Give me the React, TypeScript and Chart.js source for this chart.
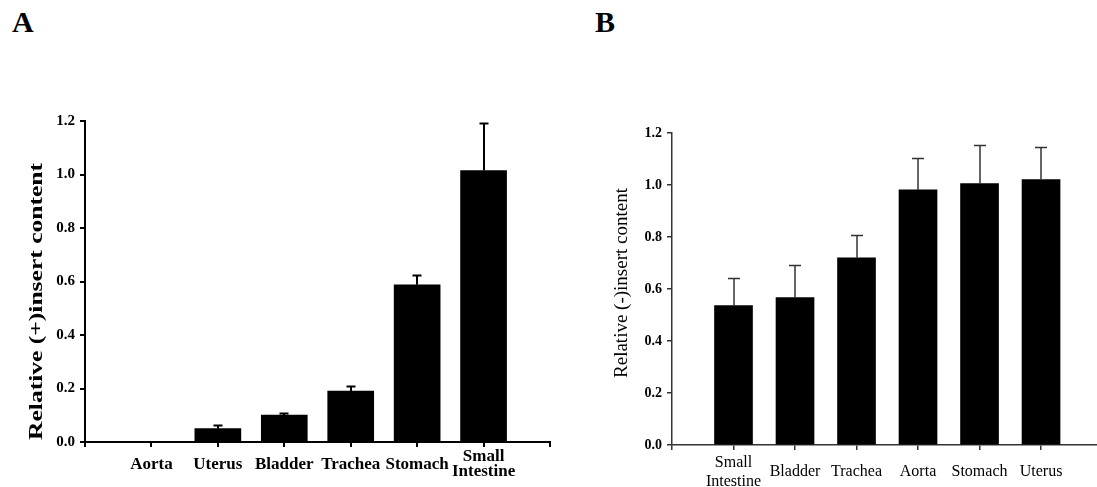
import React, { useEffect, useRef } from "react";
import { Chart, registerables } from "chart.js";

Chart.register(...registerables);

// Panel A: relative (+)insert content per tissue
const tissuesA = ["Aorta", "Uterus", "Bladder", "Trachea", "Stomach", "Small Intestine"];
const meansA = [0, 0.05, 0.101, 0.19, 0.588, 1.015];
const errorsA = [0, 0.014, 0.009, 0.02, 0.036, 0.176];

// Panel B: relative (-)insert content per tissue
const tissuesB = ["Small Intestine", "Bladder", "Trachea", "Aorta", "Stomach", "Uterus"];
const meansB = [0.536, 0.567, 0.72, 0.981, 1.005, 1.021];
const errorsB = [0.106, 0.127, 0.087, 0.124, 0.149, 0.126];

const yMax = 1.2;
const yStep = 0.2;

type PanelSpec = {
  labels: string[];
  means: number[];
  errors: number[];
  title: string;
  canvasLeft: number;
  width: number;
  height: number;
  plotLeft: number;
  plotTop: number;
  plotBottom: number;
  plotRight: number;
  xMax: number;
  barThickness: number;
  axisColor: string;
  axisWidth: number;
  tickFont: any;
  labelFont: any;
  labelPadding: number;
  titleFont: string;
  titleLength: number | null;
  titleDx: number;
  titleDy: number;
  errColor: string;
  errWidth: number;
  capWidth: number;
};

function errorBarPlugin(spec: PanelSpec) {
  return {
    id: "errorBars",
    afterDatasetsDraw(chart: any) {
      const { ctx } = chart;
      const meta = chart.getDatasetMeta(0);
      const y = chart.scales.y;
      ctx.save();
      ctx.strokeStyle = spec.errColor;
      ctx.lineWidth = spec.errWidth;
      ctx.lineCap = "butt";
      meta.data.forEach((bar: any, i: number) => {
        const e = spec.errors[i];
        if (!e) return;
        const top = Math.round(y.getPixelForValue(spec.means[i] + e)) + 0.5;
        const base = y.getPixelForValue(spec.means[i]);
        const cx = Math.round(bar.x);
        ctx.beginPath();
        ctx.moveTo(cx, base);
        ctx.lineTo(cx, top);
        ctx.moveTo(cx - spec.capWidth / 2, top);
        ctx.lineTo(cx + spec.capWidth / 2, top);
        ctx.stroke();
      });
      ctx.restore();
    },
  };
}

function axisTitlePlugin(spec: PanelSpec) {
  return {
    id: "axisTitle",
    afterDraw(chart: any) {
      const { ctx, chartArea } = chart;
      ctx.save();
      ctx.translate(
        chartArea.left + spec.titleDx,
        (chartArea.top + chartArea.bottom) / 2 + spec.titleDy
      );
      ctx.rotate(-Math.PI / 2);
      ctx.font = spec.titleFont;
      const w = ctx.measureText(spec.title).width;
      if (spec.titleLength) ctx.scale(spec.titleLength / w, 1);
      ctx.textAlign = "center";
      ctx.textBaseline = "middle";
      ctx.fillStyle = "#000";
      ctx.fillText(spec.title, 0, 0);
      ctx.restore();
    },
  };
}

function Panel({ spec }: { spec: PanelSpec }) {
  const ref = useRef<HTMLCanvasElement | null>(null);

  useEffect(() => {
    if (!ref.current) return;
    const chart = new Chart(ref.current, {
      type: "bar",
      data: {
        datasets: [
          {
            data: spec.means.map((m, i) => ({ x: i + 1, y: m })),
            backgroundColor: "#000",
            borderWidth: 0,
            barThickness: spec.barThickness,
          },
        ],
      },
      options: {
        animation: false,
        responsive: false,
        layout: {
          padding: {
            top: spec.plotTop,
            left: 0,
            right: spec.width - spec.plotRight,
            bottom: 0,
          },
        },
        plugins: {
          legend: { display: false },
          tooltip: { enabled: false },
        },
        scales: {
          x: {
            type: "linear",
            min: 0,
            max: spec.xMax,
            offset: false,
            afterFit: (s: any) => {
              s.height = spec.height - spec.plotBottom;
              s.paddingLeft = 0;
              s.paddingRight = 0;
            },
            ticks: {
              stepSize: 1,
              includeBounds: false,
              autoSkip: false,
              maxRotation: 0,
              minRotation: 0,
              crossAlign: "center",
              padding: spec.labelPadding,
              color: "#000",
              font: spec.labelFont,
              callback: (v: any) => {
                const label = spec.labels[Number(v) - 1];
                if (!label) return "";
                return label.includes(" ") ? label.split(" ") : label;
              },
            },
            grid: {
              display: true,
              offset: false,
              drawOnChartArea: false,
              drawTicks: true,
              tickLength: 5,
              color: spec.axisColor,
              lineWidth: spec.axisWidth,
            },
            border: { display: true, color: spec.axisColor, width: spec.axisWidth },
          },
          y: {
            min: 0,
            max: yMax,
            afterFit: (s: any) => {
              s.width = spec.plotLeft;
              s.paddingTop = 0;
              s.paddingBottom = 0;
            },
            ticks: {
              stepSize: yStep,
              padding: 5,
              color: "#000",
              font: spec.tickFont,
              callback: (v: any) => Number(v).toFixed(1),
            },
            grid: {
              display: true,
              drawOnChartArea: false,
              drawTicks: true,
              tickLength: 5,
              color: spec.axisColor,
              lineWidth: spec.axisWidth,
            },
            border: { display: true, color: spec.axisColor, width: spec.axisWidth },
          },
        },
      } as any,
      plugins: [errorBarPlugin(spec), axisTitlePlugin(spec)],
    });
    return () => chart.destroy();
  }, [spec]);

  return (
    <canvas
      ref={ref}
      width={spec.width}
      height={spec.height}
      style={{
        position: "absolute",
        left: spec.canvasLeft,
        top: 0,
        width: spec.width,
        height: spec.height,
      }}
    />
  );
}

const serif = "'Liberation Serif', 'Times New Roman', serif";

const panelA: PanelSpec = {
  labels: tissuesA,
  means: meansA,
  errors: errorsA,
  title: "Relative (+)insert content",
  canvasLeft: 0,
  width: 560,
  height: 487,
  plotLeft: 85,
  plotTop: 121,
  plotBottom: 442,
  plotRight: 550,
  xMax: 7,
  barThickness: 46,
  axisColor: "#000",
  axisWidth: 2,
  tickFont: { family: serif, size: 15, weight: "bold" },
  labelFont: { family: serif, size: 17, weight: "bold", lineHeight: 0.85 },
  labelPadding: 10,
  titleFont: `bold 18px ${serif}`,
  titleLength: 277,
  titleDx: -48,
  titleDy: 20,
  errColor: "#000",
  errWidth: 2,
  capWidth: 9,
};

const panelB: PanelSpec = {
  labels: tissuesB,
  means: meansB,
  errors: errorsB,
  title: "Relative (-)insert content",
  canvasLeft: 560,
  width: 537,
  height: 487,
  plotLeft: 112,
  plotTop: 133,
  plotBottom: 445,
  plotRight: 537,
  xMax: 6.91,
  barThickness: 38,
  axisColor: "#333",
  axisWidth: 1.5,
  tickFont: { family: serif, size: 14, weight: "bold" },
  labelFont: { family: serif, size: 16, weight: "normal", lineHeight: 1.15 },
  labelPadding: 13,
  titleFont: `19px ${serif}`,
  titleLength: null,
  titleDx: -50,
  titleDy: -6,
  errColor: "#333",
  errWidth: 1.5,
  capWidth: 12,
};

const letterStyle: React.CSSProperties = {
  position: "absolute",
  top: 7,
  fontFamily: serif,
  fontWeight: "bold",
  fontSize: 30,
  lineHeight: "30px",
  color: "#000",
};

export default function App() {
  return (
    <div
      style={{
        position: "fixed",
        left: 0,
        top: 0,
        width: 1097,
        height: 487,
        background: "#fff",
        overflow: "hidden",
      }}
    >
      <div style={{ ...letterStyle, left: 12 }}>A</div>
      <div style={{ ...letterStyle, left: 595 }}>B</div>
      <Panel spec={panelA} />
      <Panel spec={panelB} />
    </div>
  );
}
